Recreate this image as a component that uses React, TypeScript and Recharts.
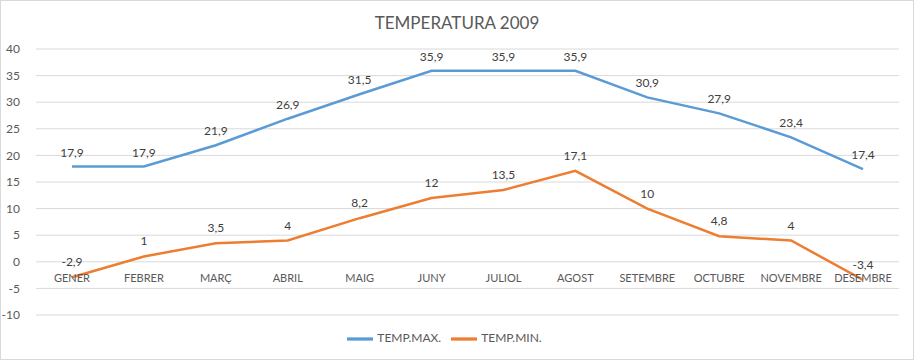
import React from "react";
import { LineChart, Line, XAxis, YAxis, CartesianGrid, Legend, LabelList } from "recharts";

const months = ["GENER", "FEBRER", "MARÇ", "ABRIL", "MAIG", "JUNY", "JULIOL", "AGOST", "SETEMBRE", "OCTUBRE", "NOVEMBRE", "DESEMBRE"];
const tempMax = [17.9, 17.9, 21.9, 26.9, 31.5, 35.9, 35.9, 35.9, 30.9, 27.9, 23.4, 17.4];
const tempMin = [-2.9, 1, 3.5, 4, 8.2, 12, 13.5, 17.1, 10, 4.8, 4, -3.4];
const yTicks = [-10, -5, 0, 5, 10, 15, 20, 25, 30, 35, 40];

const data = months.map((m, i) => ({ month: m, max: tempMax[i], min: tempMin[i] }));

const FONT = "Lato, 'Open Sans', sans-serif";
const fmt = (v: any) => String(v).replace(".", ",");

const PLOT_TOP = 49;
const PLOT_H = 265;
const Y_MIN = -10;
const Y_MAX = 40;
const zeroShift = ((0 - Y_MIN) / (Y_MAX - Y_MIN)) * PLOT_H;

const XTick = (props: any) => {
  const { x, y, payload } = props;
  return (
    <text x={x} y={y - zeroShift} dy={12} textAnchor="middle" fill="#595959" fontSize={11} fontFamily={FONT}>
      {payload.value}
    </text>
  );
};

export default function App() {
  return (
    <div style={{ position: "fixed", left: 0, top: 0, width: 914, height: 360, background: "#fff", boxSizing: "border-box", border: "1px solid #d9d9d9", fontFamily: FONT }}>
      <div style={{ position: "absolute", top: 11, width: "100%", textAlign: "center", fontSize: 17, color: "#595959", fontFamily: FONT }}>
        TEMPERATURA 2009
      </div>
      <div style={{ position: "absolute", left: -1, top: -1 }}>
        <LineChart width={914} height={360} data={data} margin={{ top: PLOT_TOP, right: 15, bottom: 0, left: 0 }}>
          <CartesianGrid vertical={false} stroke="#d9d9d9" />
          <XAxis
            dataKey="month"
            axisLine={false}
            tickLine={false}
            tick={<XTick />}
            interval={0}
            height={19}
            padding={{ left: 36, right: 36 }}
          />
          <YAxis
            domain={[Y_MIN, Y_MAX]}
            ticks={yTicks}
            axisLine={false}
            tickLine={false}
            width={36}
            tickMargin={10}
            tick={{ fill: "#595959", fontSize: 12, fontFamily: FONT }}
            interval={0}
          />
          <Legend
            verticalAlign="bottom"
            align="center"
            iconType="plainline"
            iconSize={26}
            wrapperStyle={{ bottom: 8, fontSize: 12, fontFamily: FONT }}
            formatter={(v: any) => <span style={{ color: "#595959" }}>{v}</span>}
          />
          <Line type="linear" dataKey="max" name="TEMP.MAX." stroke="#5B9BD5" strokeWidth={2.5} dot={false} isAnimationActive={false}>
            <LabelList dataKey="max" position="top" offset={10} formatter={fmt} fill="#404040" fontSize={12} fontFamily={FONT} />
          </Line>
          <Line type="linear" dataKey="min" name="TEMP.MIN." stroke="#ED7D31" strokeWidth={2.5} dot={false} isAnimationActive={false}>
            <LabelList dataKey="min" position="top" offset={11} formatter={fmt} fill="#404040" fontSize={12} fontFamily={FONT} />
          </Line>
        </LineChart>
      </div>
    </div>
  );
}
